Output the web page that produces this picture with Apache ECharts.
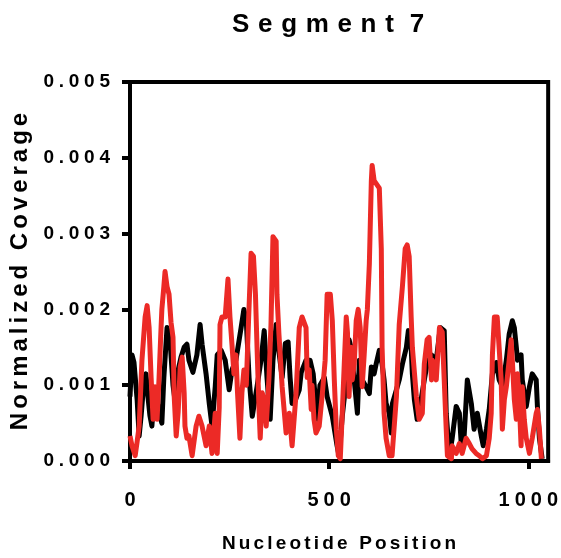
<!DOCTYPE html>
<html>
<head>
<meta charset="utf-8">
<script src="https://cdn.jsdelivr.net/npm/echarts@6/dist/echarts.min.js"></script>
<style>
  html, body { margin: 0; padding: 0; background: #ffffff; }
  #chart { width: 561px; height: 558px; }
</style>
</head>
<body>
<div id="chart"></div>
<script>
// nucleotide position, normalized coverage
const blackCoverage = [
  [0, 0.00085], [5, 0.0014], [10, 0.0013], [18, 0.0008], [23, 0.00033], [28, 0.0006],
  [35, 0.00105], [40, 0.00115], [45, 0.00085], [50, 0.0006], [55, 0.00046], [60, 0.00085],
  [65, 0.0009], [70, 0.00072], [75, 0.0006], [80, 0.0005], [85, 0.0011], [93, 0.00176],
  [100, 0.00163], [108, 0.001], [113, 0.0008], [121, 0.0012], [128, 0.00137], [136, 0.0015],
  [143, 0.00154], [148, 0.00133], [158, 0.00117], [168, 0.0014], [176, 0.0018], [181, 0.00154],
  [191, 0.00115], [199, 0.00076], [206, 0.00046], [214, 0.00098], [219, 0.0014], [229, 0.00146],
  [239, 0.00133], [249, 0.00094], [256, 0.0012], [266, 0.00133], [279, 0.00176], [286, 0.002],
  [292, 0.00185], [299, 0.0011], [307, 0.00059], [319, 0.00098], [329, 0.00133], [337, 0.00172],
  [344, 0.0011], [352, 0.00055], [359, 0.00133], [367, 0.0018], [374, 0.00144], [382, 0.0011],
  [390, 0.00155], [397, 0.00157], [402, 0.0011], [407, 0.00076], [415, 0.0008], [425, 0.00094],
  [430, 0.00117], [442, 0.00133], [452, 0.00133], [460, 0.00115], [470, 0.00055], [477, 0.001],
  [488, 0.0011], [495, 0.00085], [508, 0.00059], [520, 0.0002], [525, 0.00007], [533, 0.00059],
  [543, 0.00107], [550, 0.0016], [555, 0.0015], [563, 0.00107], [571, 0.00063], [576, 0.00133],
  [583, 0.00107], [593, 0.00098], [601, 0.00089], [606, 0.00124], [613, 0.00115], [618, 0.00128],
  [626, 0.00146], [633, 0.00128], [638, 0.00107], [643, 0.00076], [651, 0.00063], [656, 0.00037],
  [659, 0.00076], [669, 0.00094], [676, 0.00107], [684, 0.00128], [694, 0.0015], [699, 0.00172],
  [706, 0.0015], [709, 0.00115], [714, 0.00081], [721, 0.00055], [731, 0.00081], [739, 0.00107],
  [746, 0.00128], [757, 0.0014], [769, 0.00133], [779, 0.00176], [789, 0.00172], [794, 0.00063],
  [802, 0.00007], [809, 0.0003], [819, 0.00072], [827, 0.00063], [832, 0.0002], [839, 0.00033],
  [847, 0.00107], [857, 0.00076], [864, 0.00042], [872, 0.00063], [882, 0.00033], [887, 0.0002],
  [895, 0.00042], [902, 0.00068], [910, 0.00115], [920, 0.0013], [927, 0.00107], [935, 0.00098],
  [945, 0.00133], [952, 0.00167], [960, 0.00185], [965, 0.00176], [970, 0.0015], [973, 0.00133],
  [982, 0.0014], [985, 0.00107], [995, 0.00072], [1003, 0.00098], [1010, 0.00115], [1020, 0.00107],
  [1023, 0.00072], [1028, 0.0003], [1035, 0.00003]
];

const redCoverage = [
  [0, 0.00033], [5, 0.0002], [13, 0.00007], [18, 0.00026], [23, 0.00046], [30, 0.00133],
  [38, 0.0019], [43, 0.00205], [48, 0.00176], [53, 0.0011], [58, 0.00055], [63, 0.00098],
  [68, 0.00055], [73, 0.0011], [78, 0.00176], [80, 0.002], [85, 0.0023], [88, 0.0025],
  [93, 0.0023], [98, 0.0022], [103, 0.00183], [108, 0.00163], [111, 0.00085], [116, 0.00033],
  [121, 0.00065], [126, 0.00124], [131, 0.00137], [136, 0.0009], [138, 0.00046], [143, 0.0003],
  [148, 0.00033], [156, 0.00007], [166, 0.00046], [173, 0.00059], [181, 0.00046], [191, 0.0002],
  [199, 0.00046], [206, 0.0001], [214, 0.00063], [219, 0.0001], [224, 0.0007], [226, 0.0018],
  [231, 0.0019], [239, 0.0019], [246, 0.0024], [251, 0.0019], [256, 0.00154], [261, 0.00115],
  [266, 0.0014], [270, 0.0009], [276, 0.0003], [281, 0.0009], [286, 0.0012], [292, 0.001],
  [298, 0.0019], [304, 0.00274], [310, 0.0027], [315, 0.0022], [319, 0.0015], [324, 0.00068],
  [327, 0.0003], [332, 0.0009], [337, 0.0008], [342, 0.00046], [349, 0.0011], [354, 0.0018],
  [359, 0.00296], [367, 0.0029], [369, 0.0022], [374, 0.00167], [379, 0.00124], [382, 0.00098],
  [392, 0.00037], [400, 0.00063], [407, 0.0002], [417, 0.00089], [425, 0.00176], [432, 0.0019],
  [437, 0.0019], [442, 0.00176], [445, 0.0011], [450, 0.0012], [455, 0.00068], [457, 0.001],
  [462, 0.00055], [467, 0.00037], [475, 0.00046], [483, 0.00089], [490, 0.00133], [495, 0.0022],
  [503, 0.0022], [508, 0.00185], [513, 0.00107], [518, 0.00042], [523, 0.00007], [528, 0.00003],
  [533, 0.00063], [538, 0.00128], [543, 0.0019], [546, 0.0017], [550, 0.00085], [555, 0.0015],
  [558, 0.00107], [563, 0.00128], [568, 0.00185], [573, 0.002], [578, 0.00176], [583, 0.00098],
  [588, 0.0014], [593, 0.00185], [596, 0.002], [601, 0.0026], [606, 0.0037], [608, 0.0039],
  [613, 0.0037], [618, 0.0037], [626, 0.0036], [631, 0.0028], [633, 0.0015], [638, 0.00063],
  [643, 0.0003], [651, 0.00007], [658, 0.00007], [669, 0.00085], [676, 0.0018], [684, 0.0023],
  [691, 0.0028], [696, 0.00285], [701, 0.0027], [706, 0.0019], [709, 0.0015], [719, 0.00085],
  [726, 0.00055], [734, 0.00063], [739, 0.00128], [746, 0.0016], [751, 0.00163], [757, 0.00107],
  [759, 0.00133], [764, 0.00128], [769, 0.00107], [777, 0.00176], [784, 0.0017], [789, 0.00107],
  [794, 0.00042], [797, 0.00007], [807, 0.00003], [809, 0.0002], [819, 0.0001], [827, 0.00023],
  [834, 0.0001], [844, 0.0003], [852, 0.00023], [859, 0.00016], [869, 0.0001], [877, 0.00007],
  [885, 0.00003], [895, 0.00007], [902, 0.0003], [907, 0.00063], [910, 0.0014], [915, 0.0019],
  [922, 0.0019], [927, 0.0019], [932, 0.00107], [935, 0.00042], [940, 0.00081], [945, 0.00098],
  [952, 0.00133], [957, 0.0016], [960, 0.00133], [965, 0.00081], [970, 0.00055], [973, 0.00115],
  [978, 0.00072], [982, 0.0002], [985, 0.00098], [990, 0.00055], [995, 0.0003], [1003, 0.0001],
  [1010, 0.0003], [1020, 0.00063], [1023, 0.00068], [1028, 0.00042], [1033, 0.00003]
];

const xTickValues = [0, 500, 1000];
const xRange = [0, 1050];
const yRange = [0, 0.005];
const yStep = 0.001;

const FONT = "'Liberation Sans', Arial, sans-serif";

// the reference uses wide letter tracking; spread glyphs with narrow unicode spaces
function track(text, gap) {
  return Array.from(String(text)).join(gap);
}

const chart = echarts.init(document.getElementById("chart"));

const axisLineStyle = { color: "#000000", width: 4 };

chart.setOption({
  animation: false,
  backgroundColor: "#ffffff",
  title: {
    text: track("Segment", "\u2004") + "\u2004 7",
    left: 232,
    top: 12,
    padding: 0,
    textStyle: {
      fontFamily: FONT,
      fontWeight: "bold",
      fontSize: 26,
      color: "#000000"
    }
  },
  grid: {
    left: 130,
    right: 11,
    top: 82,
    bottom: 94,
    show: true,
    borderColor: "#000000",
    borderWidth: 4,
    containLabel: false
  },
  xAxis: {
    type: "value",
    min: xRange[0],
    max: xRange[1],
    name: track("Nucleotide Position", "\u2006"),
    nameLocation: "middle",
    nameGap: 73,
    nameTextStyle: {
      fontFamily: FONT,
      fontWeight: "bold",
      fontSize: 19,
      color: "#000000"
    },
    axisLine: { show: true, lineStyle: axisLineStyle },
    axisTick: {
      show: true,
      length: 8,
      lineStyle: axisLineStyle,
      customValues: xTickValues
    },
    axisLabel: {
      margin: 29,
      fontFamily: FONT,
      fontWeight: "bold",
      fontSize: 20,
      color: "#000000",
      customValues: xTickValues,
      formatter: v => track(v, "\u2005")
    },
    splitLine: { show: false }
  },
  yAxis: {
    type: "value",
    min: yRange[0],
    max: yRange[1],
    interval: yStep,
    name: track("Normalized Coverage", "\u2006"),
    nameLocation: "middle",
    nameGap: 96,
    nameTextStyle: {
      fontFamily: FONT,
      fontWeight: "bold",
      fontSize: 24,
      color: "#000000"
    },
    axisLine: { show: true, lineStyle: axisLineStyle },
    axisTick: { show: true, length: 8, lineStyle: axisLineStyle },
    axisLabel: {
      margin: 20,
      fontFamily: FONT,
      fontWeight: "bold",
      fontSize: 19,
      color: "#000000",
      formatter: v => track(v.toFixed(3), "\u2005")
    },
    splitLine: { show: false }
  },
  series: [
    {
      type: "line",
      data: blackCoverage,
      showSymbol: false,
      symbol: "none",
      lineStyle: { color: "#000000", width: 5, join: "round" },
      z: 2
    },
    {
      type: "line",
      data: redCoverage,
      showSymbol: false,
      symbol: "none",
      lineStyle: { color: "#ec2a26", width: 5, join: "round" },
      z: 3
    }
  ]
});
</script>
</body>
</html>
